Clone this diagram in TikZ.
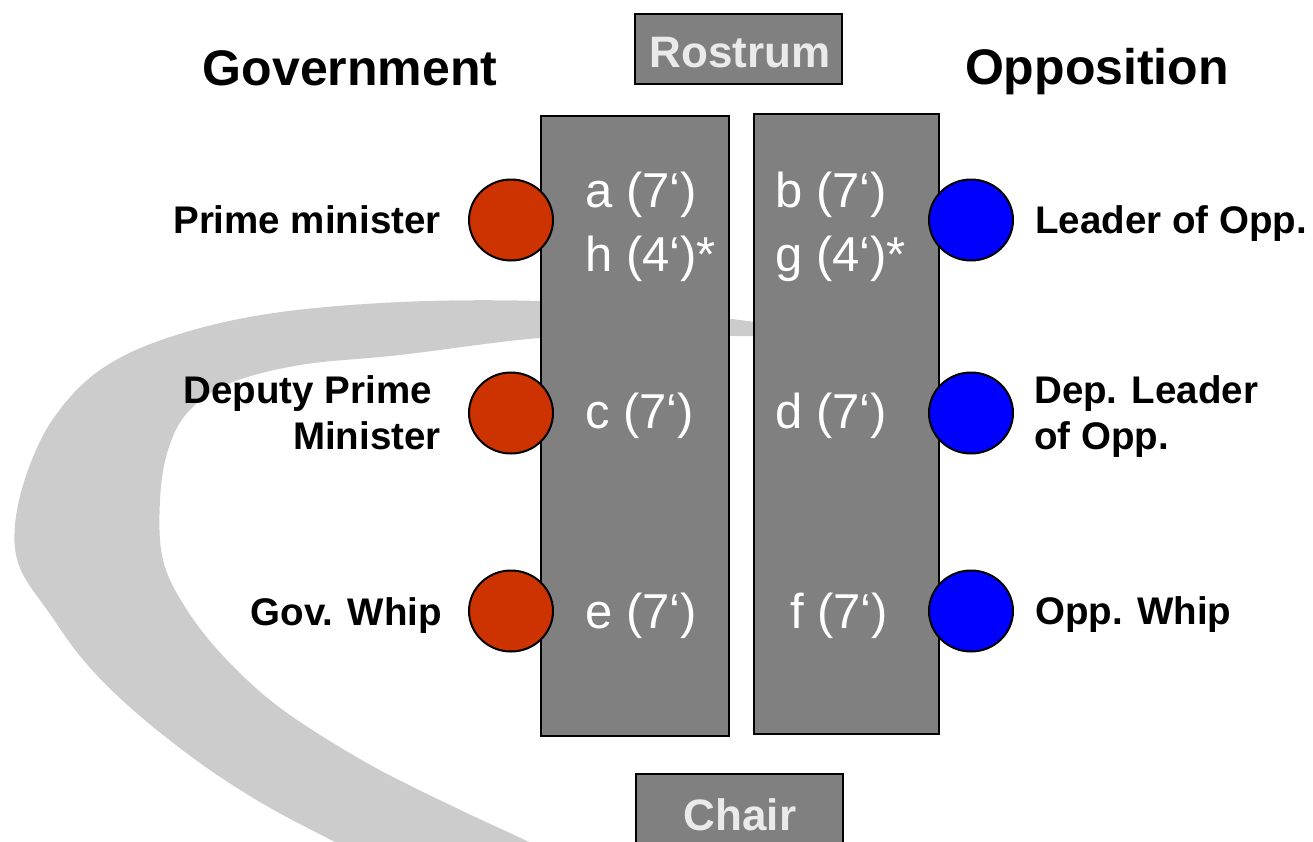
\documentclass[tikz,border=0pt]{standalone}
\usepackage{fontspec}
\setmainfont{Liberation Sans}
\usetikzlibrary{shapes.geometric}
\definecolor{swooshgray}{HTML}{CCCCCC}
\definecolor{benchgray}{HTML}{808080}
\definecolor{govred}{HTML}{CC3300}
\definecolor{oppblue}{HTML}{0000FF}
\definecolor{boxtext}{HTML}{EAEAEA}
\begin{document}
\begin{tikzpicture}[x=1pt,y=-1pt,
  benchbox/.style={draw=black,line width=2pt,fill=benchgray},
  seat/.style={ellipse,draw=black,line width=2pt,minimum width=84pt,minimum height=81pt,inner sep=0pt},
  govseat/.style={seat,fill=govred},
  oppseat/.style={seat,fill=oppblue},
  heading/.style={font=\fontsize{50}{60}\selectfont\bfseries,inner sep=0pt},
  role/.style={font=\fontsize{38.5}{46}\selectfont\bfseries,inner sep=0pt},
  slot/.style={font=\fontsize{49}{60}\selectfont,text=white,inner sep=0pt,anchor=base west},
  boxlabel/.style={font=\fontsize{44}{52}\selectfont\bfseries,text=boxtext,inner sep=0pt,anchor=base}
]
\useasboundingbox (0,0) rectangle (1313,841);
\begin{scope}
\clip (0,0) rectangle (1313,841);
% swoosh
\fill[swooshgray] plot[smooth,tension=0.6] coordinates {(800,331) (755,322) (640,309) (540,301) (400,302) (267,314) (167,338) (100,370) (55,416) (28,470) (15,525) (20,568) (50,614) (85,662) (133,710) (200,763) (265,805) (333,841) (365,858)}
 -- plot[smooth,tension=0.6] coordinates {(560,858) (527,841) (450,805) (367,763) (283,710) (227,660) (187,610) (163,560) (160,500) (168,450) (188,412) (228,384) (300,365) (400,355) (540,338) (650,336) (755,336) (800,332)} -- cycle;
% chair box
\draw[benchbox] (636,774) rectangle (843,870);
\end{scope}
% rostrum
\draw[benchbox] (635,14) rectangle (842,84);
\node[boxlabel] (rostrum) at (740,67) {Rostrum};
\node[boxlabel] (chair) at (740,830) {Chair};
% benches
\draw[benchbox] (541,116) rectangle (729,736);
\draw[benchbox] (754,114) rectangle (939,734);
% headings
\node[heading,anchor=base] (gov) at (350,85) {Government};
\node[heading,anchor=base] (opp) at (1097,84) {Opposition};
% seats
\node[govseat] (pm) at (511,220) {};
\node[govseat] (dpm) at (511,413) {};
\node[govseat] (gw) at (511,611) {};
\node[oppseat] (lo) at (971,220) {};
\node[oppseat] (dlo) at (971,413) {};
\node[oppseat] (ow) at (971,611) {};
% slot texts
\node[slot] (sa) at (585,207) {a (7‘)};
\node[slot] (sh) at (585,271) {h (4‘)*};
\node[slot] (sb) at (775,207) {b (7‘)};
\node[slot] (sg) at (775,271) {g (4‘)*};
\node[slot] (sc) at (585,428) {c (7‘)};
\node[slot] (sd) at (775,428) {d (7‘)};
\node[slot] (se) at (585,628) {e (7‘)};
\node[slot] (sf) at (790,628) {f (7‘)};
% role labels
\node[role,anchor=base east] (lpm) at (441,233) {Prime minister};
\node[role,anchor=base east] (ldpm1) at (432,403) {Deputy Prime};
\node[role,anchor=base east] (ldpm2) at (441,449) {Minister};
\node[role,anchor=base east] (lgw) at (442,625) {Gov. Whip};
\node[role,anchor=base west] (llo) at (1035,233) {Leader of Opp.};
\node[role,anchor=base west] (ldlo1) at (1034,403) {Dep. Leader};
\node[role,anchor=base west] (ldlo2) at (1034,449) {of Opp.};
\node[role,anchor=base west] (low) at (1035,624) {Opp. Whip};
\end{tikzpicture}
\end{document}
